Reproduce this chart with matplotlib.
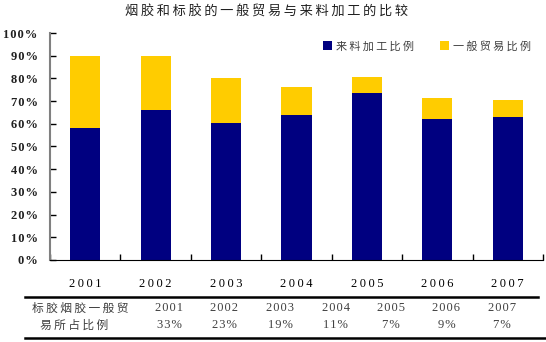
import matplotlib
matplotlib.use("Agg")
import matplotlib.pyplot as plt
from matplotlib.lines import Line2D
import numpy as np

plt.rcParams["font.family"] = ["Noto Sans CJK SC", "DejaVu Sans"]

years = ["2001", "2002", "2003", "2004", "2005", "2006", "2007"]
processing = [58, 66, 60.5, 64, 73.5, 62, 63]      # 来料加工比例
general = [32, 24, 19.5, 12, 7, 9.5, 7.5]          # 一般贸易比例
table_header = ["标胶烟胶一般贸", "易所占比例"]
table_share = ["33%", "23%", "19%", "11%", "7%", "9%", "7%"]

NAVY = "#000080"
YELLOW = "#FFCC00"
GRAY = "#404040"
SERIF = ["Liberation Serif", "DejaVu Sans"]


def spaced(s, sep="\u2009"):
    # the original uses wide letter spacing
    return sep.join(s)


def hair(s):
    return spaced(s, "\u200a")


fig = plt.figure(figsize=(5.46, 3.42), dpi=100)
ax = fig.add_axes([0.0916, 0.2398, 0.9029, 0.6637])

x = np.arange(len(years))
ax.bar(x, processing, width=0.43, color=NAVY, label=spaced("来料加工比例"), zorder=2)
ax.bar(x, general, width=0.43, bottom=processing, color=YELLOW, label=spaced("一般贸易比例"), zorder=2)

ax.set_xlim(-0.5, len(years) - 0.5)
ax.set_ylim(0, 100)
ax.set_yticks(np.arange(0, 101, 10))
ax.set_yticklabels([hair(f"{v}%") for v in range(0, 101, 10)], family=SERIF,
                   fontsize=9, fontweight="bold", color="#202020")
ax.tick_params(axis="y", direction="in", length=4, width=1, pad=9)

ax.set_xticks(x)
ax.set_xticklabels([spaced(y) for y in years], family=SERIF, fontsize=9, color="black")
ax.tick_params(axis="x", length=0, pad=13)
ax.set_xticks(np.arange(-0.5, len(years)), minor=True)
ax.tick_params(axis="x", which="minor", direction="in", length=4, width=1, color="black")

for side in ["top", "right"]:
    ax.spines[side].set_visible(False)
ax.spines["left"].set_color("#808080")
ax.spines["left"].set_linewidth(1.5)
ax.spines["bottom"].set_color("black")

ax.legend(loc="upper right", bbox_to_anchor=(0.995, 1.01), ncol=2, frameon=False,
          fontsize=8, handlelength=0.8, handleheight=0.8, handletextpad=0.3,
          columnspacing=2.4, labelcolor=GRAY)

fig.text(0.489, 1 - 12 / 342, spaced("烟胶和标胶的一般贸易与来料加工的比较"), ha="center", va="center",
         fontsize=9.5, color="#202020")

# table below the chart
fig.add_artist(Line2D([25 / 546, 538 / 546], [1 - 297 / 342] * 2, color="black", lw=1.8))
fig.add_artist(Line2D([25 / 546, 1.0], [1 - 337.5 / 342] * 2, color="black", lw=1.8))
fig.text(80 / 546, 1 - 308 / 342, spaced(table_header[0]), ha="center", va="center",
         fontsize=8.5, color=GRAY)
fig.text(74 / 546, 1 - 325 / 342, spaced(table_header[1]), ha="center", va="center",
         fontsize=8.5, color=GRAY)
col_x = np.linspace(169, 502, len(years)) / 546
for cx, yr, sh in zip(col_x, years, table_share):
    fig.text(cx, 1 - 308 / 342, hair(yr), ha="center", va="center",
             family=SERIF, fontsize=9, color=GRAY)
    fig.text(cx, 1 - 325 / 342, hair(sh), ha="center", va="center",
             family=SERIF, fontsize=9, color=GRAY)

fig.savefig("out.png", dpi=100, facecolor="white")
